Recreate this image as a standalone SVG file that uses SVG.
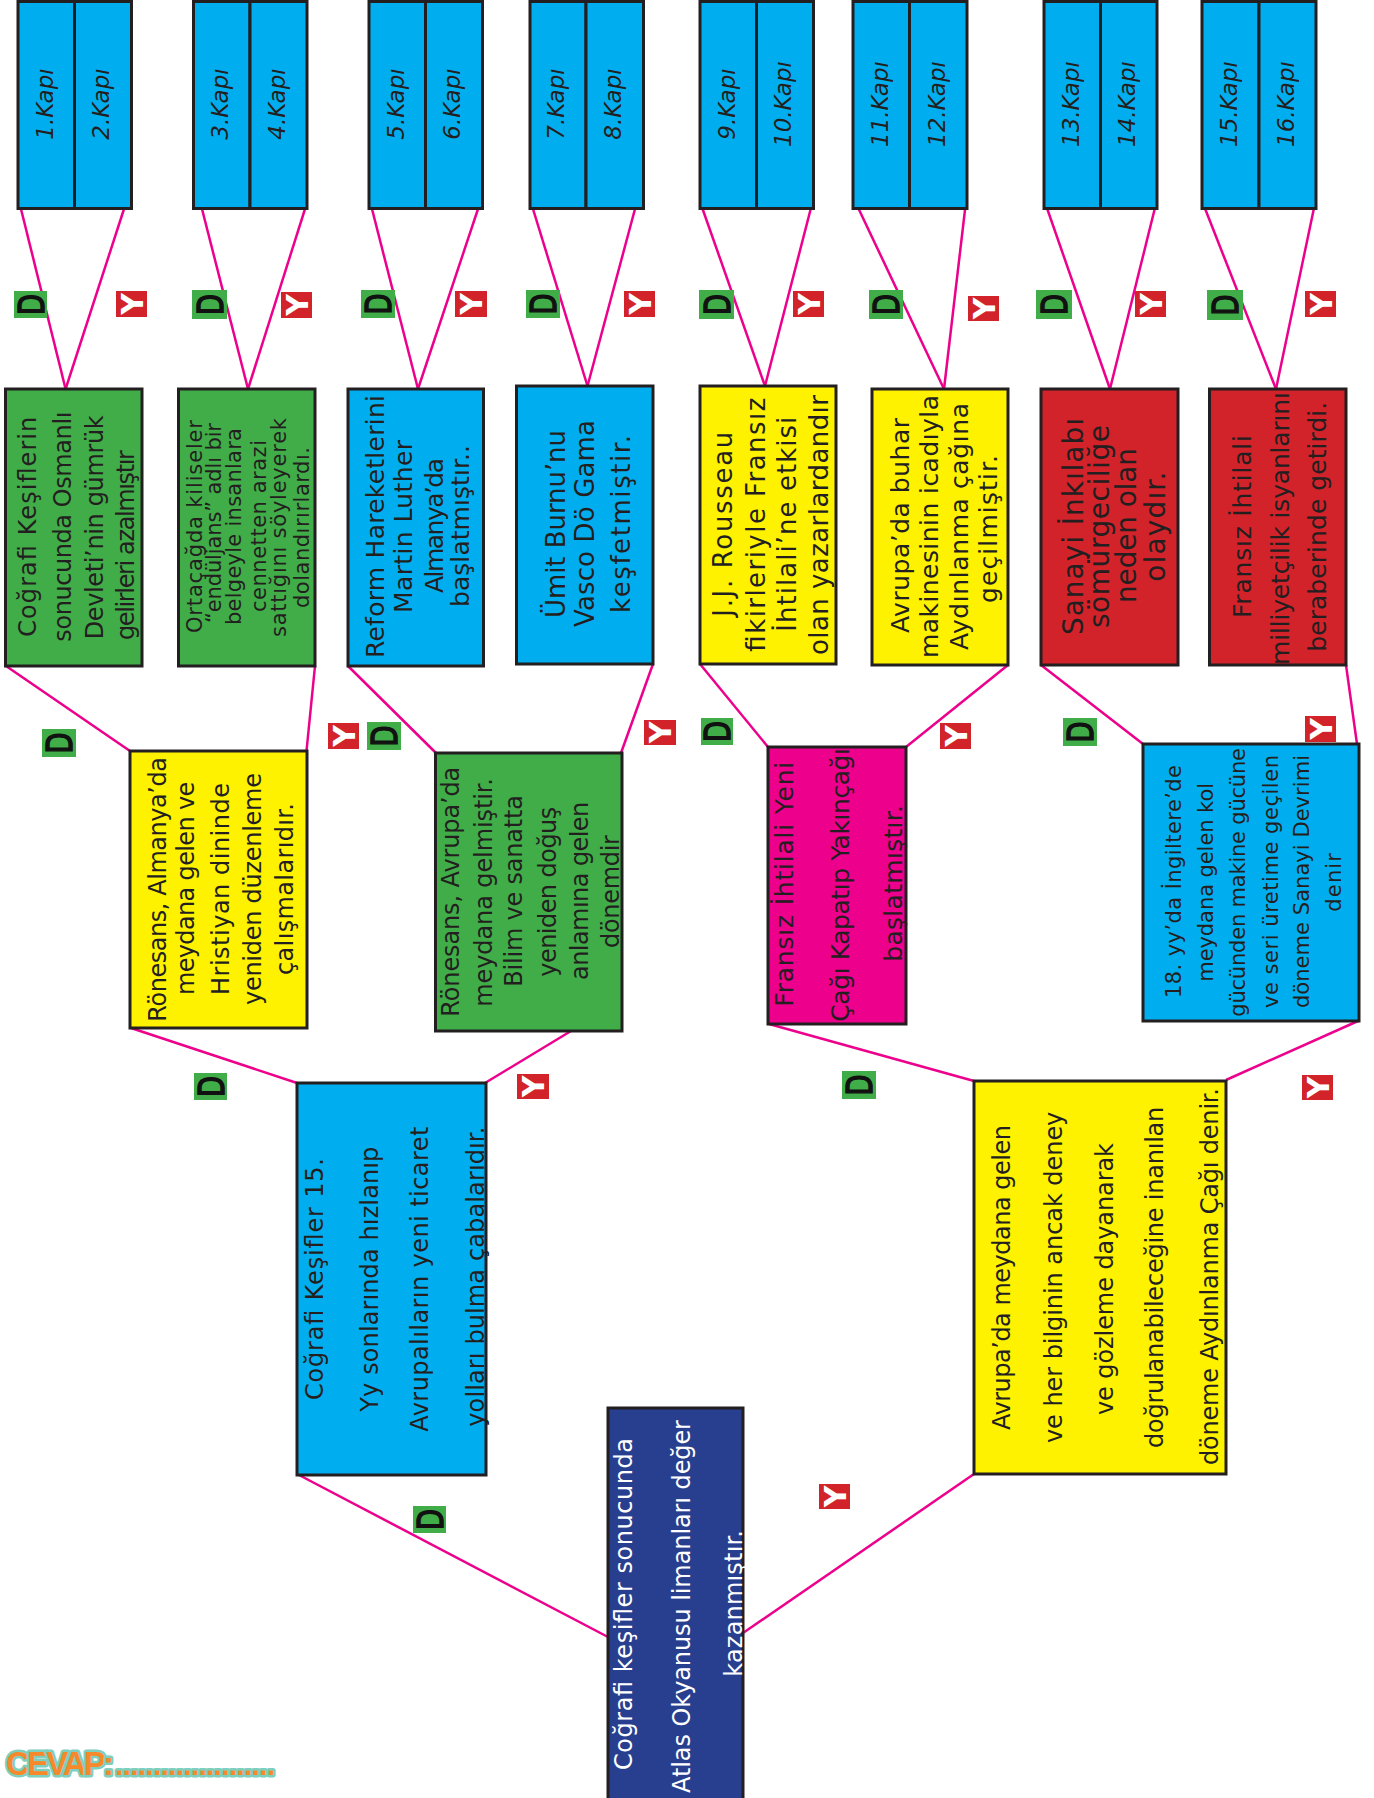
<svg xmlns="http://www.w3.org/2000/svg" width="1374" height="1798" viewBox="0 0 1374 1798">
<style>
.bx{stroke:#231f20;stroke-width:3}
.cy{fill:#00aeef}.gr{fill:#40ad48}.ye{fill:#fff200}.re{fill:#d2232a}.mg{fill:#ec008c}.nv{fill:#283f8f}
.t{font-family:"DejaVu Sans","Liberation Sans",sans-serif;fill:#231f20}
.w{fill:#ffffff}
.k{font-family:"DejaVu Sans",sans-serif;font-style:italic;font-size:23px;fill:#231f20;text-anchor:middle}
.conn line{stroke:#ec008c;stroke-width:2.5}
.dm rect{fill:#40ad48}.ym rect{fill:#d2232a}
.dm text{font-family:"DejaVu Sans",sans-serif;font-size:36px;fill:#111;stroke:#111;stroke-width:1.6;text-anchor:middle}
.ym text{font-family:"DejaVu Sans",sans-serif;font-weight:bold;font-size:30px;fill:#fff;text-anchor:middle}
</style>

<g id="connectors" class="conn">
<line x1="21" y1="209" x2="65.6" y2="389"/><line x1="124" y1="209" x2="65.6" y2="389"/>
<line x1="202" y1="209" x2="248" y2="389"/><line x1="305" y1="209" x2="248" y2="389"/>
<line x1="372" y1="209" x2="418" y2="389"/><line x1="478" y1="209" x2="418" y2="389"/>
<line x1="533" y1="209" x2="587.5" y2="386"/><line x1="635" y1="209" x2="587.5" y2="386"/>
<line x1="702.6" y1="209" x2="765" y2="386"/><line x1="810.7" y1="209" x2="765" y2="386"/>
<line x1="858.7" y1="209" x2="944" y2="389"/><line x1="965.1" y1="209" x2="944" y2="389"/>
<line x1="1047.3" y1="209" x2="1110" y2="389"/><line x1="1154.7" y1="209" x2="1110" y2="389"/>
<line x1="1205.2" y1="209" x2="1276" y2="389"/><line x1="1313.8" y1="209" x2="1276" y2="389"/>
<line x1="6" y1="666" x2="130" y2="751"/>
<line x1="315" y1="666" x2="306.5" y2="751"/>
<line x1="348" y1="666" x2="437" y2="754"/>
<line x1="653" y1="664" x2="621" y2="753"/>
<line x1="700" y1="664" x2="768" y2="747"/>
<line x1="1008" y1="665" x2="906" y2="747"/>
<line x1="1041" y1="665" x2="1143" y2="744"/>
<line x1="1346" y1="665" x2="1357" y2="744"/>
<line x1="131" y1="1028" x2="297" y2="1083"/>
<line x1="571" y1="1031" x2="485" y2="1083"/>
<line x1="769" y1="1024" x2="974" y2="1081"/>
<line x1="1358" y1="1021" x2="1226" y2="1080"/>
<line x1="299" y1="1475" x2="608" y2="1637"/>
<line x1="974" y1="1474" x2="743" y2="1633"/>
</g>

<g id="gates">
<g id="gate1"><rect class="bx cy" x="18" y="1.5" width="56.5" height="207"/><text class="k" transform="translate(52.5,104) rotate(-90)">1.Kapı</text></g>
<g id="gate2"><rect class="bx cy" x="74.5" y="1.5" width="57" height="207"/><text class="k" transform="translate(109.3,104) rotate(-90)">2.Kapı</text></g>
<g id="gate3"><rect class="bx cy" x="193.5" y="1.5" width="56.5" height="207"/><text class="k" transform="translate(228,104) rotate(-90)">3.Kapı</text></g>
<g id="gate4"><rect class="bx cy" x="250" y="1.5" width="57" height="207"/><text class="k" transform="translate(284.8,104) rotate(-90)">4.Kapı</text></g>
<g id="gate5"><rect class="bx cy" x="369" y="1.5" width="56.5" height="207"/><text class="k" transform="translate(403.5,104) rotate(-90)">5.Kapı</text></g>
<g id="gate6"><rect class="bx cy" x="425.5" y="1.5" width="57" height="207"/><text class="k" transform="translate(460.3,104) rotate(-90)">6.Kapı</text></g>
<g id="gate7"><rect class="bx cy" x="530" y="1.5" width="56" height="207"/><text class="k" transform="translate(564.3,104) rotate(-90)">7.Kapı</text></g>
<g id="gate8"><rect class="bx cy" x="586" y="1.5" width="57.5" height="207"/><text class="k" transform="translate(621,104) rotate(-90)">8.Kapı</text></g>
<g id="gate9"><rect class="bx cy" x="700" y="1.5" width="56.5" height="207"/><text class="k" transform="translate(734.5,104) rotate(-90)">9.Kapı</text></g>
<g id="gate10"><rect class="bx cy" x="756.5" y="1.5" width="57" height="207"/><text class="k" transform="translate(791.3,104) rotate(-90)">10.Kapı</text></g>
<g id="gate11"><rect class="bx cy" x="853" y="1.5" width="56.5" height="207"/><text class="k" transform="translate(887.5,104) rotate(-90)">11.Kapı</text></g>
<g id="gate12"><rect class="bx cy" x="909.5" y="1.5" width="57.5" height="207"/><text class="k" transform="translate(944.5,104) rotate(-90)">12.Kapı</text></g>
<g id="gate13"><rect class="bx cy" x="1044" y="1.5" width="56.5" height="207"/><text class="k" transform="translate(1078.5,104) rotate(-90)">13.Kapı</text></g>
<g id="gate14"><rect class="bx cy" x="1100.5" y="1.5" width="56.5" height="207"/><text class="k" transform="translate(1135,104) rotate(-90)">14.Kapı</text></g>
<g id="gate15"><rect class="bx cy" x="1202" y="1.5" width="57" height="207"/><text class="k" transform="translate(1236.8,104) rotate(-90)">15.Kapı</text></g>
<g id="gate16"><rect class="bx cy" x="1259" y="1.5" width="57" height="207"/><text class="k" transform="translate(1293.8,104) rotate(-90)">16.Kapı</text></g>
</g>

<g id="markers">
<g class="dm"><rect x="14" y="291" width="33" height="27"/><text y="13" transform="translate(30.5,304.5) rotate(-90) scale(0.76,1)">D</text></g>
<g class="ym"><rect x="116" y="291" width="31" height="26"/><text y="11" transform="translate(131.5,304) rotate(-90)">Y</text></g>
<g class="dm"><rect x="192" y="290" width="35" height="29"/><text y="13" transform="translate(209.5,304.5) rotate(-90) scale(0.76,1)">D</text></g>
<g class="ym"><rect x="281" y="292" width="31" height="26"/><text y="11" transform="translate(296.5,305) rotate(-90)">Y</text></g>
<g class="dm"><rect x="361" y="290" width="34" height="28"/><text y="13" transform="translate(378,304) rotate(-90) scale(0.76,1)">D</text></g>
<g class="ym"><rect x="455" y="291" width="32" height="26"/><text y="11" transform="translate(471,304) rotate(-90)">Y</text></g>
<g class="dm"><rect x="526" y="290" width="34" height="28"/><text y="13" transform="translate(543,304) rotate(-90) scale(0.76,1)">D</text></g>
<g class="ym"><rect x="624" y="291" width="31" height="26"/><text y="11" transform="translate(639.5,304) rotate(-90)">Y</text></g>
<g class="dm"><rect x="699" y="290" width="35" height="29"/><text y="13" transform="translate(716.5,304.5) rotate(-90) scale(0.76,1)">D</text></g>
<g class="ym"><rect x="793" y="291" width="31" height="26"/><text y="11" transform="translate(808.5,304) rotate(-90)">Y</text></g>
<g class="dm"><rect x="869" y="290" width="34" height="29"/><text y="13" transform="translate(886,304.5) rotate(-90) scale(0.76,1)">D</text></g>
<g class="ym"><rect x="968" y="296" width="31" height="25"/><text y="11" transform="translate(983.5,308.5) rotate(-90)">Y</text></g>
<g class="dm"><rect x="1036" y="290" width="36" height="29"/><text y="13" transform="translate(1054,304.5) rotate(-90) scale(0.76,1)">D</text></g>
<g class="ym"><rect x="1135" y="291" width="31" height="26"/><text y="11" transform="translate(1150.5,304) rotate(-90)">Y</text></g>
<g class="dm"><rect x="1207" y="290" width="36" height="30"/><text y="13" transform="translate(1225,305) rotate(-90) scale(0.76,1)">D</text></g>
<g class="ym"><rect x="1305" y="291" width="31" height="26"/><text y="11" transform="translate(1320.5,304) rotate(-90)">Y</text></g>

<g class="dm"><rect x="42" y="729" width="34" height="28"/><text y="13" transform="translate(59,743) rotate(-90) scale(0.76,1)">D</text></g>
<g class="ym"><rect x="328" y="723" width="31" height="26"/><text y="11" transform="translate(343.5,736) rotate(-90)">Y</text></g>
<g class="dm"><rect x="367" y="722" width="34" height="28"/><text y="13" transform="translate(384,736) rotate(-90) scale(0.76,1)">D</text></g>
<g class="ym"><rect x="644" y="720" width="32" height="25"/><text y="11" transform="translate(660,732.5) rotate(-90)">Y</text></g>
<g class="dm"><rect x="701" y="718" width="32" height="27"/><text y="13" transform="translate(717,731.5) rotate(-90) scale(0.76,1)">D</text></g>
<g class="ym"><rect x="940" y="723" width="31" height="26"/><text y="11" transform="translate(955.5,736) rotate(-90)">Y</text></g>
<g class="dm"><rect x="1063" y="718" width="34" height="28"/><text y="13" transform="translate(1080,732) rotate(-90) scale(0.76,1)">D</text></g>
<g class="ym"><rect x="1305" y="716" width="31" height="26"/><text y="11" transform="translate(1320.5,729) rotate(-90)">Y</text></g>

<g class="dm"><rect x="194" y="1073" width="33" height="27"/><text y="13" transform="translate(210.5,1086.5) rotate(-90) scale(0.76,1)">D</text></g>
<g class="ym"><rect x="517" y="1074" width="32" height="25"/><text y="11" transform="translate(533,1086.5) rotate(-90)">Y</text></g>
<g class="dm"><rect x="842" y="1071" width="34" height="28"/><text y="13" transform="translate(859,1085) rotate(-90) scale(0.76,1)">D</text></g>
<g class="ym"><rect x="1302" y="1075" width="31" height="25"/><text y="11" transform="translate(1317.5,1087.5) rotate(-90)">Y</text></g>

<g class="dm"><rect x="413" y="1506" width="33" height="27"/><text y="13" transform="translate(429.5,1519.5) rotate(-90) scale(0.76,1)">D</text></g>
<g class="ym"><rect x="819" y="1484" width="31" height="25"/><text y="11" transform="translate(834.5,1496.5) rotate(-90)">Y</text></g>
</g>

<g id="n-a">
<rect class="bx gr" x="5.5" y="389" width="136.5" height="277"/>
<text class="t" font-size="24" textLength="220" transform="translate(35.7,636.7) rotate(-90)">Coğrafi Keşiflerin</text>
<text class="t" font-size="24" textLength="230" transform="translate(70.5,641.7) rotate(-90)">sonucunda Osmanlı</text>
<text class="t" font-size="24" textLength="224" transform="translate(102.7,639.3) rotate(-90)">Devleti’nin gümrük</text>
<text class="t" font-size="24" textLength="190" transform="translate(134,640) rotate(-90)">gelirleri azalmıştır</text>
</g>

<g id="n-b">
<rect class="bx gr" x="178.5" y="389" width="136.5" height="277"/>
<text class="t" font-size="21" textLength="213" transform="translate(202,633) rotate(-90)">Ortaçağda kiliseler</text>
<text class="t" font-size="21" textLength="200" transform="translate(221,623) rotate(-90)">“endüljans” adlı bir</text>
<text class="t" font-size="21" textLength="197" transform="translate(241,625) rotate(-90)">belgeyle insanlara</text>
<text class="t" font-size="21" textLength="172" transform="translate(266,612) rotate(-90)">cennetten arazi</text>
<text class="t" font-size="21" textLength="219" transform="translate(286,637) rotate(-90)">sattığını söyleyerek</text>
<text class="t" font-size="21" textLength="161" transform="translate(309,608) rotate(-90)">dolandırırlardı.</text>
</g>

<g id="n-c">
<rect class="bx cy" x="348" y="389" width="135.5" height="277"/>
<text class="t" font-size="25" textLength="263" transform="translate(384,658) rotate(-90)">Reform Hareketlerini</text>
<text class="t" font-size="25" textLength="173" transform="translate(411.6,613) rotate(-90)">Martin Luther</text>
<text class="t" font-size="25" textLength="135" transform="translate(443,593) rotate(-90)">Almanya’da</text>
<text class="t" font-size="25" textLength="162" transform="translate(469,607) rotate(-90)">başlatmıştır..</text>
</g>

<g id="n-d">
<rect class="bx cy" x="516.5" y="386" width="136.5" height="278"/>
<text class="t" font-size="26" textLength="188" transform="translate(565,618) rotate(-90)">Ümit Burnu’nu</text>
<text class="t" font-size="26" textLength="207" transform="translate(594,627) rotate(-90)">Vasco Dö Gama</text>
<text class="t" font-size="26" textLength="178" transform="translate(629.5,613) rotate(-90)">keşfetmiştir.</text>
</g>

<g id="n-e">
<rect class="bx ye" x="700" y="386" width="136" height="278"/>
<text class="t" font-size="26" textLength="185" transform="translate(731.8,616.7) rotate(-90)">J.J. Rousseau</text>
<text class="t" font-size="26" textLength="254" transform="translate(765,651.7) rotate(-90)">fikirleriyle Fransız</text>
<text class="t" font-size="26" textLength="215" transform="translate(796,631.7) rotate(-90)">İhtilali’ne etkisi</text>
<text class="t" font-size="26" textLength="260" transform="translate(828,655) rotate(-90)">olan yazarlardandır</text>
</g>

<g id="n-f">
<rect class="bx ye" x="872" y="389" width="136" height="276"/>
<text class="t" font-size="25" textLength="215" transform="translate(909,633) rotate(-90)">Avrupa’da buhar</text>
<text class="t" font-size="25" textLength="263" transform="translate(937.6,658) rotate(-90)">makinesinin icadıyla</text>
<text class="t" font-size="25" textLength="247" transform="translate(967.7,650) rotate(-90)">Aydınlanma çağına</text>
<text class="t" font-size="25" textLength="148" transform="translate(996.5,603) rotate(-90)">geçilmiştir.</text>
</g>

<g id="n-g">
<rect class="bx re" x="1041" y="389" width="137" height="276"/>
<text class="t" font-size="28" textLength="217" transform="translate(1082.8,635) rotate(-90)">Sanayi İnkılabı</text>
<text class="t" font-size="28" textLength="203" transform="translate(1108.5,628) rotate(-90)">sömürgeciliğe</text>
<text class="t" font-size="28" textLength="155" transform="translate(1136,603) rotate(-90)">neden olan</text>
<text class="t" font-size="28" textLength="110" transform="translate(1164.7,581.7) rotate(-90)">olaydır.</text>
</g>

<g id="n-h">
<rect class="bx re" x="1209.5" y="389" width="136.5" height="276"/>
<text class="t" font-size="25" textLength="183" transform="translate(1251,618) rotate(-90)">Fransız İhtilali</text>
<text class="t" font-size="25" textLength="273" transform="translate(1288.7,665) rotate(-90)">milliyetçilik isyanlarını</text>
<text class="t" font-size="25" textLength="250" transform="translate(1326,651.7) rotate(-90)">beraberinde getirdi.</text>
</g>

<g id="n-l2a">
<rect class="bx ye" x="130" y="751" width="177" height="277"/>
<text class="t" font-size="24" textLength="264.7" transform="translate(165.8,1021.7) rotate(-90)">Rönesans,  Almanya’da</text>
<text class="t" font-size="24" textLength="213.3" transform="translate(194,995) rotate(-90)">meydana gelen ve</text>
<text class="t" font-size="24" textLength="212" transform="translate(228.8,995) rotate(-90)">Hristiyan dininde</text>
<text class="t" font-size="24" textLength="232" transform="translate(260.5,1005) rotate(-90)">yeniden düzenleme</text>
<text class="t" font-size="24" textLength="172" transform="translate(293,975) rotate(-90)">çalışmalarıdır.</text>
</g>

<g id="n-l2b">
<rect class="bx gr" x="435.5" y="753" width="186.5" height="278"/>
<text class="t" font-size="24" textLength="250" transform="translate(458.8,1016.7) rotate(-90)">Rönesans, Avrupa’da</text>
<text class="t" font-size="24" textLength="228.7" transform="translate(491.5,1006.7) rotate(-90)">meydana gelmiştir.</text>
<text class="t" font-size="24" textLength="191.7" transform="translate(522,986.7) rotate(-90)">Bilim ve sanatta</text>
<text class="t" font-size="24" textLength="170" transform="translate(556,976.7) rotate(-90)">yeniden doğuş</text>
<text class="t" font-size="24" textLength="178.3" transform="translate(587.6,980) rotate(-90)">anlamına gelen</text>
<text class="t" font-size="24" textLength="113" transform="translate(619,948) rotate(-90)">dönemdir</text>
</g>

<g id="n-l2c">
<rect class="bx mg" x="768" y="747" width="138" height="277"/>
<text class="t" font-size="25" textLength="245" transform="translate(793.4,1006.7) rotate(-90)">Fransız İhtilali Yeni</text>
<text class="t" font-size="25" textLength="273.7" transform="translate(849,1021.7) rotate(-90)">Çağı Kapatıp Yakınçağı</text>
<text class="t" font-size="25" textLength="156.7" transform="translate(901.7,961.7) rotate(-90)">başlatmıştır.</text>
</g>

<g id="n-l2d">
<rect class="bx cy" x="1143" y="744" width="216" height="277"/>
<text class="t" font-size="21" textLength="233" transform="translate(1180.8,998) rotate(-90)">18. yy’da İngiltere’de</text>
<text class="t" font-size="21" textLength="198.7" transform="translate(1213,981.7) rotate(-90)">meydana gelen kol</text>
<text class="t" font-size="21" textLength="268.7" transform="translate(1244.6,1016.7) rotate(-90)">gücünden makine gücüne</text>
<text class="t" font-size="21" textLength="253" transform="translate(1277.8,1008) rotate(-90)">ve seri üretime geçilen</text>
<text class="t" font-size="21" textLength="253" transform="translate(1309,1008) rotate(-90)">döneme Sanayi Devrimi</text>
<text class="t" font-size="21" textLength="58.7" transform="translate(1341,911.7) rotate(-90)">denir</text>
</g>

<g id="n-l1a">
<rect class="bx cy" x="297" y="1083" width="189" height="392"/>
<text class="t" font-size="24" textLength="242" transform="translate(323,1400) rotate(-90)">Coğrafi Keşifler 15.</text>
<text class="t" font-size="24" textLength="265" transform="translate(378,1411.7) rotate(-90)">Yy sonlarında hızlanıp</text>
<text class="t" font-size="24" textLength="305" transform="translate(428,1431.7) rotate(-90)">Avrupalıların yeni ticaret</text>
<text class="t" font-size="24" textLength="300" transform="translate(484,1426.7) rotate(-90)">yolları bulma çabalarıdır.</text>
</g>

<g id="n-l1b">
<rect class="bx ye" x="974" y="1081" width="252" height="393"/>
<text class="t" font-size="24" textLength="305" transform="translate(1010,1430) rotate(-90)">Avrupa’da meydana gelen</text>
<text class="t" font-size="24" textLength="331.3" transform="translate(1061.7,1443) rotate(-90)">ve her bilginin ancak deney</text>
<text class="t" font-size="24" textLength="272" transform="translate(1113,1415) rotate(-90)">ve gözleme dayanarak</text>
<text class="t" font-size="24" textLength="341.3" transform="translate(1163,1448) rotate(-90)">doğrulanabileceğine inanılan</text>
<text class="t" font-size="24" textLength="377" transform="translate(1218,1465) rotate(-90)">döneme Aydınlanma Çağı denir.</text>
</g>

<g id="n-root">
<rect class="bx nv" x="608" y="1408" width="135" height="400"/>
<text class="t w" font-size="24" textLength="332" transform="translate(632.3,1770) rotate(-90)">Coğrafi keşifler sonucunda</text>
<text class="t w" font-size="24" textLength="373" transform="translate(690,1793) rotate(-90)">Atlas Okyanusu limanları değer</text>
<text class="t w" font-size="24" textLength="146.7" transform="translate(741.5,1676.7) rotate(-90)">kazanmıştır.</text>
</g>

<g id="cevap" font-family="'Liberation Sans',sans-serif" font-weight="bold" fill="#f7892a" stroke="#7fcfbf" stroke-width="5" stroke-linejoin="round" paint-order="stroke">
<text x="6" y="1775" font-size="33" textLength="108">CEVAP:</text>
<text x="115" y="1775" font-size="30" textLength="160">.....................</text>
</g>
</svg>
